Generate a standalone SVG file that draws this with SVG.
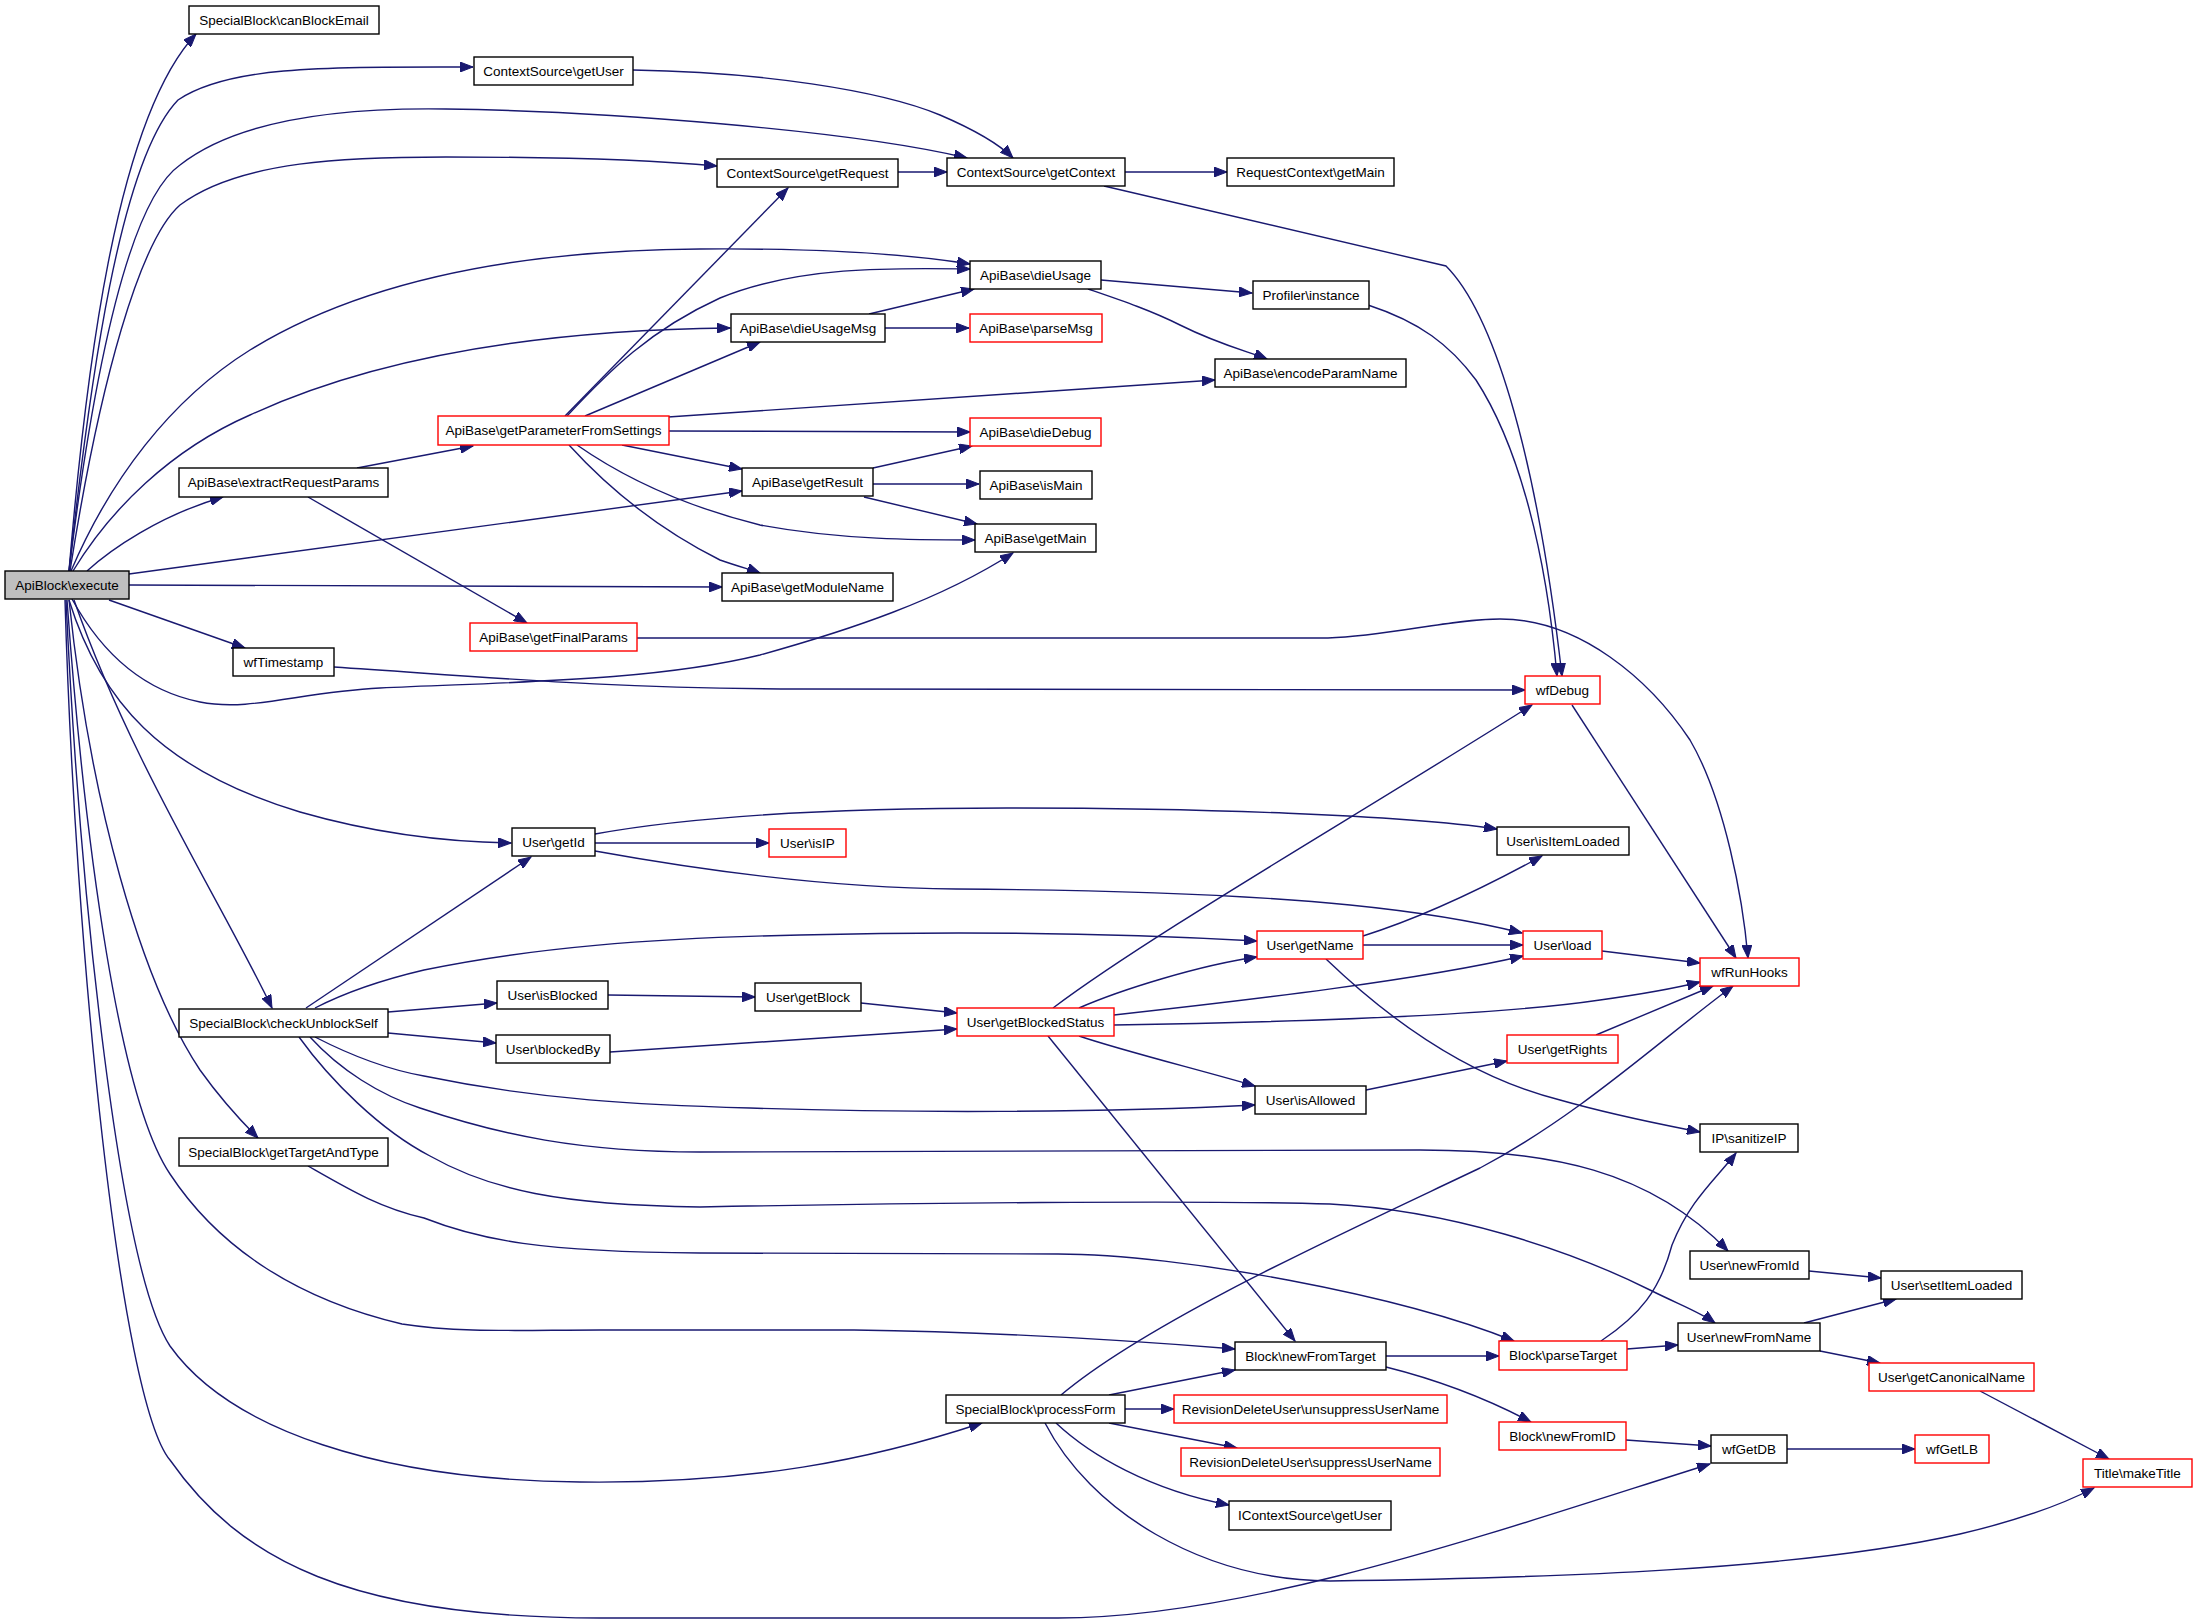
<svg xmlns="http://www.w3.org/2000/svg" width="2197" height="1624" viewBox="0 0 2197 1624">
<style>
.n rect{fill:#ffffff;stroke:#000000;stroke-width:1.4}
.n.r rect{stroke:#ff0000}
.n.g rect{fill:#bfbfbf}
.n text{font-family:"Liberation Sans",Arial,sans-serif;font-size:13.5px;fill:#000000;text-anchor:middle}
#edges path{fill:none;stroke:#191970;stroke-width:1.4;marker-end:url(#ah)}
</style>
<defs>
<marker id="ah" markerUnits="userSpaceOnUse" markerWidth="14" markerHeight="10" refX="13" refY="5" orient="auto" viewBox="0 0 14 10">
<path d="M0,0 L13,5 L0,10 z" fill="#191970" stroke="#191970" stroke-width="1"/>
</marker>
</defs>
<rect width="2197" height="1624" fill="#ffffff"/>
<g id="edges">
<path d="M69,571 C85,380 115,120 196,34"/>
<path d="M69,571 C90,380 120,160 178,100 C230,65 330,67 473,67"/>
<path d="M69,571 C95,360 130,200 180,165 C250,110 380,108 446,109 C600,111 850,130 967,158"/>
<path d="M70,571 C100,380 140,240 180,205 C240,160 350,157 446,157 C560,157 650,160 717,166"/>
<path d="M71,571 C110,480 170,400 250,350 C380,270 550,250 700,249 C830,248 920,256 970,264"/>
<path d="M73,571 C110,510 170,450 250,415 C380,355 550,330 730,328"/>
<path d="M87,571 C110,550 160,515 223,497"/>
<path d="M129,574 L742,491"/>
<path d="M129,585 L722,587"/>
<path d="M109,600 L245,648"/>
<path d="M72,599 C100,650 140,690 200,702 C250,712 300,692 380,688 C500,682 650,682 760,655 C850,630 940,600 1013,553"/>
<path d="M69,600 C100,700 160,770 300,812 C380,835 450,842 511,843"/>
<path d="M74,600 C130,760 220,900 272,1008"/>
<path d="M69,600 C90,800 140,980 200,1070 C225,1105 245,1125 258,1138"/>
<path d="M67,600 C85,850 120,1100 170,1174 C220,1250 300,1300 402,1324 C460,1333 520,1330 600,1330 L854,1330 C1000,1332 1150,1342 1235,1349"/>
<path d="M66,600 C80,900 120,1270 170,1346 C230,1430 380,1480 580,1482 C750,1484 870,1460 982,1423"/>
<path d="M65,600 C75,950 120,1400 170,1460 C240,1560 350,1618 600,1618 L1058,1618 C1250,1618 1500,1530 1710,1464"/>
<path d="M357,468 L473,446"/>
<path d="M308,497 L527,623"/>
<path d="M565,416 L788,188"/>
<path d="M567,416 C610,370 650,330 720,298 C800,265 900,268 970,269"/>
<path d="M585,416 L760,342"/>
<path d="M668,417 L1215,380"/>
<path d="M669,431 L970,432"/>
<path d="M622,445 L742,469"/>
<path d="M577,445 C620,475 680,505 760,525 C840,540 920,540 975,540"/>
<path d="M569,445 C610,490 660,530 720,560 C740,567 752,570 760,573"/>
<path d="M633,70 C760,72 880,90 940,115 C975,130 1000,145 1013,158"/>
<path d="M898,172 L947,172"/>
<path d="M1125,172 L1227,172"/>
<path d="M1104,186 L1446,266 C1490,310 1535,440 1562,676"/>
<path d="M1368,305 C1420,322 1450,345 1476,380 C1515,440 1545,540 1557,676"/>
<path d="M1101,280 L1252,293"/>
<path d="M1088,289 C1120,300 1150,310 1180,325 C1220,345 1250,352 1267,359"/>
<path d="M869,314 L974,289"/>
<path d="M885,328 L969,328"/>
<path d="M873,468 L972,446"/>
<path d="M873,484 L979,484"/>
<path d="M864,497 L977,524"/>
<path d="M637,638 L1328,638 C1390,636 1450,619 1500,619 C1580,619 1650,680 1690,740 C1725,800 1743,900 1748,958"/>
<path d="M334,667 C500,678 600,688 800,689 L1525,690"/>
<path d="M595,834 C700,815 850,808 1007,808 C1200,808 1400,815 1497,829"/>
<path d="M595,843 L769,843"/>
<path d="M595,851 C700,870 830,888 956,889 C1100,890 1250,895 1350,905 C1430,913 1490,925 1522,933"/>
<path d="M306,1008 L531,857"/>
<path d="M315,1008 C350,990 390,978 424,970 C530,948 650,938 800,935 C1000,930 1150,935 1257,941"/>
<path d="M388,1012 L497,1003"/>
<path d="M388,1033 L496,1043"/>
<path d="M315,1037 C350,1055 390,1070 424,1076 C540,1100 640,1105 750,1108 C900,1113 1100,1113 1255,1105"/>
<path d="M310,1037 C340,1070 380,1095 420,1108 C500,1135 580,1152 700,1152 L1420,1150 C1550,1150 1650,1170 1728,1251"/>
<path d="M299,1037 C330,1080 380,1130 430,1156 C490,1190 560,1205 700,1207 C900,1203 1200,1200 1330,1204 C1450,1210 1570,1250 1650,1290 C1680,1305 1700,1312 1715,1323"/>
<path d="M308,1166 C350,1190 380,1208 424,1218 C480,1240 540,1252 700,1253 L1058,1254 C1180,1254 1400,1295 1514,1341"/>
<path d="M608,995 L755,997"/>
<path d="M861,1003 L957,1013"/>
<path d="M610,1052 L957,1029"/>
<path d="M1053,1008 C1150,935 1350,820 1532,705"/>
<path d="M1079,1008 C1120,990 1200,965 1257,957"/>
<path d="M1114,1015 C1250,1000 1420,980 1523,956"/>
<path d="M1114,1025 C1300,1022 1500,1015 1600,1000 C1650,993 1680,987 1700,982"/>
<path d="M1079,1036 C1120,1050 1200,1070 1255,1086"/>
<path d="M1048,1036 L1295,1341"/>
<path d="M1363,936 C1420,918 1480,890 1542,856"/>
<path d="M1363,945 L1523,945"/>
<path d="M1326,959 C1400,1030 1480,1080 1560,1100 C1620,1117 1670,1126 1700,1132"/>
<path d="M1366,1090 L1507,1061"/>
<path d="M1596,1035 L1713,986"/>
<path d="M1602,951 L1700,963"/>
<path d="M1572,705 L1736,958"/>
<path d="M1061,1395 C1150,1320 1350,1230 1480,1168 C1580,1115 1660,1040 1733,986"/>
<path d="M1386,1356 L1499,1356"/>
<path d="M1386,1367 C1430,1378 1480,1395 1531,1422"/>
<path d="M1109,1395 L1235,1370"/>
<path d="M1125,1409 L1174,1409"/>
<path d="M1109,1423 L1237,1448"/>
<path d="M1056,1423 C1090,1455 1150,1490 1229,1505"/>
<path d="M1045,1423 C1090,1510 1200,1580 1330,1581 C1550,1578 1800,1570 1960,1534 C2020,1520 2065,1503 2094,1488"/>
<path d="M1601,1341 C1640,1315 1660,1290 1672,1245 C1690,1200 1715,1180 1736,1153"/>
<path d="M1627,1349 L1678,1345"/>
<path d="M1809,1271 L1881,1278"/>
<path d="M1804,1323 L1896,1299"/>
<path d="M1820,1351 L1880,1363"/>
<path d="M1980,1391 L2109,1459"/>
<path d="M1626,1440 L1711,1446"/>
<path d="M1787,1449 L1915,1449"/>
</g>
<g id="n1" class="n"><rect x="189" y="6" width="190" height="28"/><text x="284" y="24.8">SpecialBlock\canBlockEmail</text></g>
<g id="n2" class="n"><rect x="474" y="57" width="159" height="28"/><text x="553.5" y="75.8">ContextSource\getUser</text></g>
<g id="n3" class="n"><rect x="717" y="159" width="181" height="28"/><text x="807.5" y="177.8">ContextSource\getRequest</text></g>
<g id="n4" class="n"><rect x="947" y="158" width="178" height="28"/><text x="1036" y="176.8">ContextSource\getContext</text></g>
<g id="n5" class="n"><rect x="1227" y="158" width="167" height="28"/><text x="1310.5" y="176.8">RequestContext\getMain</text></g>
<g id="n6" class="n"><rect x="970" y="261" width="131" height="28"/><text x="1035.5" y="279.8">ApiBase\dieUsage</text></g>
<g id="n7" class="n"><rect x="1253" y="281" width="116" height="28"/><text x="1311" y="299.8">Profiler\instance</text></g>
<g id="n8" class="n"><rect x="731" y="314" width="154" height="28"/><text x="808" y="332.8">ApiBase\dieUsageMsg</text></g>
<g id="n9" class="n r"><rect x="970" y="314" width="132" height="28"/><text x="1036" y="332.8">ApiBase\parseMsg</text></g>
<g id="n10" class="n"><rect x="1215" y="359" width="191" height="28"/><text x="1310.5" y="377.8">ApiBase\encodeParamName</text></g>
<g id="n11" class="n r"><rect x="438" y="416" width="231" height="29"/><text x="553.5" y="435.3">ApiBase\getParameterFromSettings</text></g>
<g id="n12" class="n r"><rect x="970" y="418" width="131" height="28"/><text x="1035.5" y="436.8">ApiBase\dieDebug</text></g>
<g id="n13" class="n"><rect x="179" y="468" width="209" height="29"/><text x="283.5" y="487.3">ApiBase\extractRequestParams</text></g>
<g id="n14" class="n"><rect x="742" y="468" width="131" height="28"/><text x="807.5" y="486.8">ApiBase\getResult</text></g>
<g id="n15" class="n"><rect x="980" y="471" width="112" height="28"/><text x="1036" y="489.8">ApiBase\isMain</text></g>
<g id="n16" class="n"><rect x="975" y="524" width="121" height="28"/><text x="1035.5" y="542.8">ApiBase\getMain</text></g>
<g id="n17" class="n g"><rect x="5" y="571" width="124" height="28"/><text x="67" y="589.8">ApiBlock\execute</text></g>
<g id="n18" class="n"><rect x="722" y="573" width="171" height="28"/><text x="807.5" y="591.8">ApiBase\getModuleName</text></g>
<g id="n19" class="n r"><rect x="470" y="623" width="167" height="28"/><text x="553.5" y="641.8">ApiBase\getFinalParams</text></g>
<g id="n20" class="n"><rect x="233" y="648" width="101" height="28"/><text x="283.5" y="666.8">wfTimestamp</text></g>
<g id="n21" class="n r"><rect x="1525" y="676" width="75" height="28"/><text x="1562.5" y="694.8">wfDebug</text></g>
<g id="n22" class="n"><rect x="512" y="828" width="83" height="28"/><text x="553.5" y="846.8">User\getId</text></g>
<g id="n23" class="n r"><rect x="769" y="829" width="77" height="28"/><text x="807.5" y="847.8">User\isIP</text></g>
<g id="n24" class="n"><rect x="1497" y="827" width="132" height="28"/><text x="1563" y="845.8">User\isItemLoaded</text></g>
<g id="n25" class="n r"><rect x="1257" y="931" width="106" height="28"/><text x="1310" y="949.8">User\getName</text></g>
<g id="n26" class="n r"><rect x="1523" y="931" width="79" height="28"/><text x="1562.5" y="949.8">User\load</text></g>
<g id="n27" class="n r"><rect x="1700" y="958" width="99" height="28"/><text x="1749.5" y="976.8">wfRunHooks</text></g>
<g id="n28" class="n"><rect x="497" y="981" width="111" height="28"/><text x="552.5" y="999.8">User\isBlocked</text></g>
<g id="n29" class="n"><rect x="755" y="983" width="106" height="28"/><text x="808" y="1001.8">User\getBlock</text></g>
<g id="n30" class="n"><rect x="179" y="1009" width="209" height="28"/><text x="283.5" y="1027.8">SpecialBlock\checkUnblockSelf</text></g>
<g id="n31" class="n r"><rect x="957" y="1008" width="157" height="28"/><text x="1035.5" y="1026.8">User\getBlockedStatus</text></g>
<g id="n32" class="n"><rect x="496" y="1035" width="114" height="28"/><text x="553" y="1053.8">User\blockedBy</text></g>
<g id="n33" class="n r"><rect x="1507" y="1035" width="111" height="28"/><text x="1562.5" y="1053.8">User\getRights</text></g>
<g id="n34" class="n"><rect x="1255" y="1086" width="111" height="28"/><text x="1310.5" y="1104.8">User\isAllowed</text></g>
<g id="n35" class="n"><rect x="1700" y="1124" width="98" height="28"/><text x="1749" y="1142.8">IP\sanitizeIP</text></g>
<g id="n36" class="n"><rect x="179" y="1138" width="209" height="28"/><text x="283.5" y="1156.8">SpecialBlock\getTargetAndType</text></g>
<g id="n37" class="n"><rect x="1690" y="1251" width="119" height="28"/><text x="1749.5" y="1269.8">User\newFromId</text></g>
<g id="n38" class="n"><rect x="1881" y="1271" width="141" height="28"/><text x="1951.5" y="1289.8">User\setItemLoaded</text></g>
<g id="n39" class="n"><rect x="1678" y="1323" width="142" height="28"/><text x="1749" y="1341.8">User\newFromName</text></g>
<g id="n40" class="n"><rect x="1235" y="1342" width="151" height="28"/><text x="1310.5" y="1360.8">Block\newFromTarget</text></g>
<g id="n41" class="n r"><rect x="1499" y="1341" width="128" height="29"/><text x="1563" y="1360.3">Block\parseTarget</text></g>
<g id="n42" class="n r"><rect x="1869" y="1363" width="165" height="28"/><text x="1951.5" y="1381.8">User\getCanonicalName</text></g>
<g id="n43" class="n"><rect x="946" y="1395" width="179" height="28"/><text x="1035.5" y="1413.8">SpecialBlock\processForm</text></g>
<g id="n44" class="n r"><rect x="1174" y="1395" width="273" height="28"/><text x="1310.5" y="1413.8">RevisionDeleteUser\unsuppressUserName</text></g>
<g id="n45" class="n r"><rect x="1499" y="1422" width="127" height="28"/><text x="1562.5" y="1440.8">Block\newFromID</text></g>
<g id="n46" class="n"><rect x="1711" y="1435" width="76" height="28"/><text x="1749" y="1453.8">wfGetDB</text></g>
<g id="n47" class="n r"><rect x="1915" y="1435" width="74" height="28"/><text x="1952" y="1453.8">wfGetLB</text></g>
<g id="n48" class="n r"><rect x="1181" y="1448" width="259" height="28"/><text x="1310.5" y="1466.8">RevisionDeleteUser\suppressUserName</text></g>
<g id="n49" class="n r"><rect x="2083" y="1459" width="109" height="28"/><text x="2137.5" y="1477.8">Title\makeTitle</text></g>
<g id="n50" class="n"><rect x="1229" y="1501" width="162" height="29"/><text x="1310" y="1520.3">IContextSource\getUser</text></g>
</svg>
